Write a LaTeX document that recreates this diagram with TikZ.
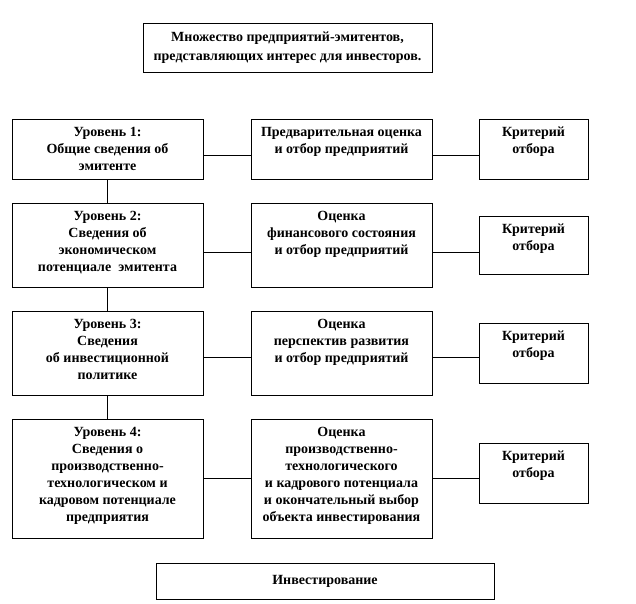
\documentclass[tikz,border=0pt]{standalone}
\usepackage{fontspec}
\setmainfont{Liberation Serif}
\begin{document}
\begin{tikzpicture}[x=1pt,y=-1pt,
  box/.style={draw, line width=0.8pt, inner sep=0pt, minimum width=#1},
  txt/.style={anchor=north, inner sep=0pt, align=center,
    font=\fontsize{14}{17}\selectfont\bfseries},
  ctxt/.style={inner sep=0pt, align=center,
    font=\fontsize{14}{19}\selectfont\bfseries},
  link/.style={line width=0.8pt}]
\useasboundingbox (0,0) rectangle (636,603);
% boxes
\node[box=289, minimum height=49] (T) at (287.5,47.5) {};
\node[box=191, minimum height=60] (L1) at (107.5,149) {};
\node[box=181, minimum height=60] (M1) at (341.5,149) {};
\node[box=109, minimum height=60] (R1) at (533.5,149) {};
\node[box=191, minimum height=84] (L2) at (107.5,245) {};
\node[box=181, minimum height=84] (M2) at (341.5,245) {};
\node[box=109, minimum height=58] (R2) at (533.5,245) {};
\node[box=191, minimum height=84] (L3) at (107.5,353) {};
\node[box=181, minimum height=84] (M3) at (341.5,353) {};
\node[box=109, minimum height=60] (R3) at (533.5,353) {};
\node[box=191, minimum height=119] (L4) at (107.5,478.5) {};
\node[box=181, minimum height=119] (M4) at (341.5,478.5) {};
\node[box=109, minimum height=60] (R4) at (533.5,473) {};
\node[box=338, minimum height=36] (B) at (325,581) {};
% texts
\node[ctxt] (Tt) at (T.center) {Множество предприятий-эмитентов,\\представляющих интерес для инвесторов.};
\node[txt] (L1t) at ([yshift=-6pt]L1.north) {\strut Уровень 1:\\Общие сведения об\\эмитенте};
\node[txt] (M1t) at ([yshift=-6pt]M1.north) {\strut Предварительная оценка\\и отбор предприятий};
\node[txt] (R1t) at ([yshift=-6pt]R1.north) {\strut Критерий\\отбора};
\node[txt] (L2t) at ([yshift=-6pt]L2.north) {\strut Уровень 2:\\Сведения об\\экономическом\\потенциале\ \ эмитента};
\node[txt] (M2t) at ([yshift=-6pt]M2.north) {\strut Оценка\\финансового состояния\\и отбор предприятий};
\node[txt] (R2t) at ([yshift=-6pt]R2.north) {\strut Критерий\\отбора};
\node[txt] (L3t) at ([yshift=-6pt]L3.north) {\strut Уровень 3:\\Сведения\\об инвестиционной\\политике};
\node[txt] (M3t) at ([yshift=-6pt]M3.north) {\strut Оценка\\перспектив развития\\и отбор предприятий};
\node[txt] (R3t) at ([yshift=-6pt]R3.north) {\strut Критерий\\отбора};
\node[txt] (L4t) at ([yshift=-6pt]L4.north) {\strut Уровень 4:\\Сведения о\\производственно-\\технологическом и\\кадровом потенциале\\предприятия};
\node[txt] (M4t) at ([yshift=-6pt]M4.north) {\strut Оценка\\производственно-\\технологического\\и кадрового потенциала\\и окончательный выбор\\объекта инвестирования};
\node[txt] (R4t) at ([yshift=-6pt]R4.north) {\strut Критерий\\отбора};
\node[ctxt] (Bt) at (B.center) {Инвестирование};
% connectors
\draw[link] (L1.south) -- (L2.north);
\draw[link] (L2.south) -- (L3.north);
\draw[link] (L3.south) -- (L4.north);
\draw[link] ([yshift=-6pt]L1.east) -- ([yshift=-6pt]M1.west);
\draw[link] ([yshift=-6pt]M1.east) -- ([yshift=-6pt]R1.west);
\draw[link] ([yshift=-7pt]L2.east) -- ([yshift=-7pt]M2.west);
\draw[link] ([yshift=-7pt]M2.east) -- ([yshift=-7pt]R2.west);
\draw[link] ([yshift=-4pt]L3.east) -- ([yshift=-4pt]M3.west);
\draw[link] ([yshift=-4pt]M3.east) -- ([yshift=-4pt]R3.west);
\draw[link] (L4.east) -- (M4.west);
\draw[link] (M4.east) -- (M4.east -| R4.west);
\end{tikzpicture}
\end{document}
